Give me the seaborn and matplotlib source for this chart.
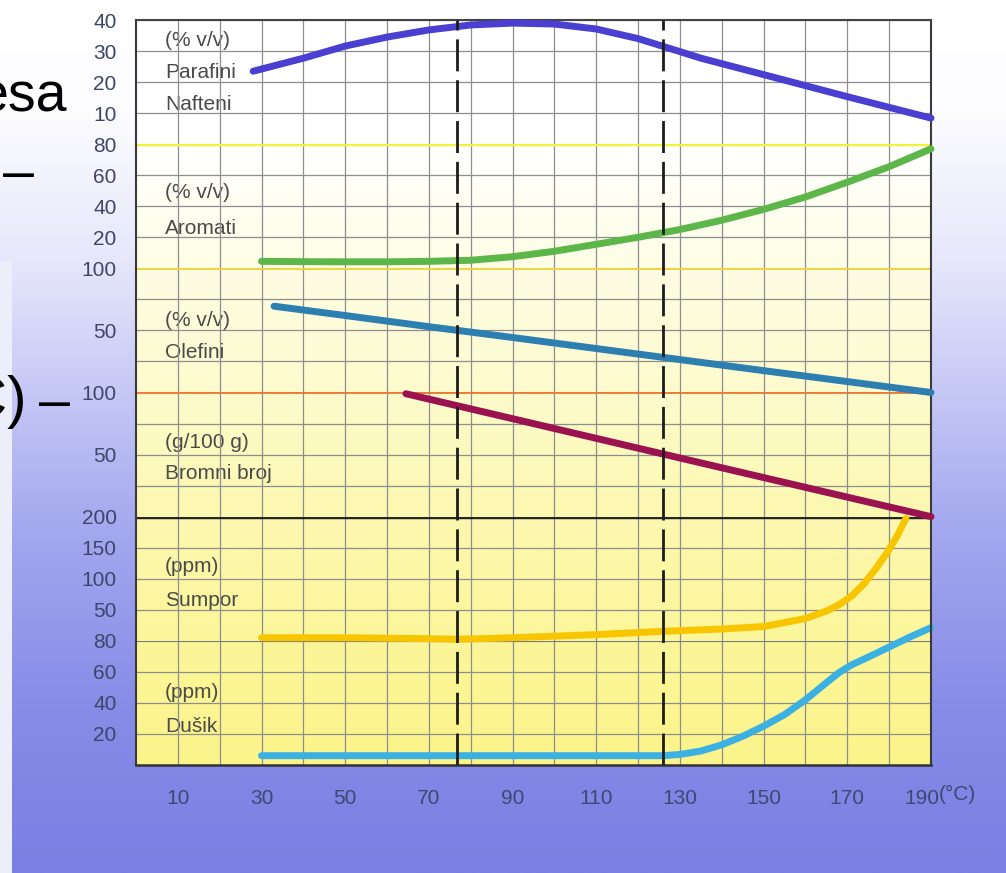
import numpy as np
import seaborn as sns
import matplotlib.pyplot as plt
from matplotlib.colors import to_rgb
from matplotlib.patches import Rectangle
from matplotlib.transforms import ScaledTranslation

# vrijednosti ocitane sa slike, x = temperatura (°C)
parafini_t = [28, 40, 50, 60, 70, 80, 90, 100, 110, 120, 126, 135, 150, 170, 190]
parafini = [23.5, 27.7, 31.6, 34.5, 36.8, 38.4, 39.0, 38.7, 37.1, 34.0, 31.5, 27.7, 22.4, 15.3, 8.4]

aromati_t = [30, 40, 50, 60, 70, 80, 90, 100, 110, 120, 130, 140, 150, 160, 170, 180, 190]
aromati = [4.5, 4.3, 4.2, 4.2, 4.5, 5.2, 7.5, 11.0, 15.5, 20.0, 25.0, 31.0, 38.0, 46.0, 55.5, 65.5, 77.0]

olefini_t = [33, 50, 70, 90, 110, 130, 150, 170, 190]
olefini = [69.5, 62.0, 53.0, 44.3, 35.4, 26.5, 17.6, 8.8, 0.0]

bromni_t = [64.5, 90, 126, 160, 190]
bromni = [99.0, 78.9, 50.4, 23.6, 0.0]

sumpor_t = [30, 50, 70, 77, 90, 110, 125, 140, 150, 160, 165, 168, 171, 174, 177, 180, 182, 184]
sumpor = [5, 5, 3.5, 2.5, 5, 10, 15, 19, 23, 36, 48, 58, 72, 92, 118, 147, 170, 197]

dusik_t = [30, 50, 70, 90, 110, 126, 130, 135, 140, 145, 150, 155, 160, 165, 168, 171, 175, 180, 185, 190]
dusik = [6, 6, 6, 6, 6, 6, 6.8, 9, 13, 18.5, 25, 32.5, 42, 53, 59.5, 64.5, 69.5, 76, 82.5, 88.5]

dashed_t = [76.6, 126.0]

x_ticks = [10, 30, 50, 70, 90, 110, 130, 150, 170, 190]
panel_top = [40, 80, 100, 100, 200, 80]
panel_ticks = [[10, 20, 30, 40], [20, 40, 60, 80], [50, 100], [50, 100],
               [50, 100, 150, 200], [20, 40, 60, 80]]
panel_minor = [[], [], [25, 75], [25, 75], [], []]
panel_labels = [["(% v/v)", "Parafini", "Nafteni"], ["(% v/v)", "Aromati"],
                ["(% v/v)", "Olefini"], ["(g/100 g)", "Bromni broj"],
                ["(ppm)", "Sumpor"], ["(ppm)", "Dušik"]]

sns.set_style("white")
plt.rcParams['font.family'] = ['Liberation Sans', 'DejaVu Sans']

W, H = 1006, 873
fig = plt.figure(figsize=(W / 100, H / 100), dpi=100)


def grad(stops, n=500):
    pos = [p for p, c in stops]
    cols = np.array([to_rgb(c) for p, c in stops])
    t = np.linspace(0, 1, n)
    return np.stack([np.interp(t, pos, cols[:, i]) for i in range(3)], axis=1)[:, None, :]


def fx(px):
    return px / W


def fy(py):
    return 1 - py / H


# pozadina slajda
bg = fig.add_axes([0, 0, 1, 1], zorder=-10)
bg.imshow(grad([(0, '#ffffff'), (0.12, '#fdfdff'), (0.3, '#e6e7fb'), (0.45, '#c5c8f5'),
                (0.6, '#a5a9ef'), (0.8, '#888de8'), (1, '#7a7fe3')]),
          aspect='auto', extent=[0, 1, 0, 1])
bg.add_patch(Rectangle((0, 0), 12 / W, 0.7, color='#eceefa', lw=0))
bg.set_xlim(0, 1)
bg.set_ylim(0, 1)
bg.axis('off')

L, R, T, B = 136, 931, 20, 765
row = (B - T) / 24

pb = fig.add_axes([fx(L), fy(B), (R - L) / W, (B - T) / H], zorder=-5)
pb.imshow(grad([(0, '#ffffff'), (0.168, '#ffffff'), (0.24, '#fffff4'), (0.336, '#fefde4'),
                (0.5, '#fdfbcc'), (0.667, '#fcf8b0'), (0.833, '#fcf69a'), (1, '#fbf48a')]),
          aspect='auto', extent=[0, 1, 0, 1])
pb.axis('off')

series = [(parafini_t, parafini, '#4a3fd0', 0), (aromati_t, aromati, '#5db64a', 1),
          (olefini_t, olefini, '#2c7fb0', 2), (bromni_t, bromni, '#9a1250', 3),
          (sumpor_t, sumpor, '#f7c600', 4), (dusik_t, dusik, '#3bb0e2', 5)]
dividers = [None, ('#f2f23a', 2.5), ('#f2d23a', 2.0), ('#ee7838', 2.0), ('#262626', 2.5), ('#7a7a7a', 1.3)]

axes = []
for k in range(6):
    top = T + 4 * k * row
    ax = fig.add_axes([fx(L), fy(top + 4 * row), (R - L) / W, 4 * row / H], zorder=10 - k)
    ax.set_facecolor('none')
    ax.set_xlim(0, 190)
    ax.set_ylim(0, panel_top[k])
    ax.set_yticks(panel_ticks[k])
    ax.set_yticks(panel_minor[k], minor=True)
    ax.set_xticks(x_ticks)
    ax.set_xticks(list(range(20, 190, 20)), minor=True)
    ax.grid(True, which='both', color='#8e8e8e', lw=0.9)
    ax.tick_params(axis='both', which='both', length=0)
    ax.tick_params(axis='y', pad=14, labelsize=15, labelcolor='#3e4668')
    for s in ['left', 'right']:
        ax.spines[s].set_color('#3a3a3a')
        ax.spines[s].set_linewidth(1.5)
    ax.spines['top'].set_visible(k == 0)
    ax.spines['bottom'].set_visible(k == 5)
    ax.spines['top'].set_color('#444444')
    ax.spines['top'].set_linewidth(1.5)
    ax.spines['bottom'].set_color('#333333')
    ax.spines['bottom'].set_linewidth(1.8)
    if dividers[k] is not None:
        ax.axhline(panel_top[k], color=dividers[k][0], lw=dividers[k][1], zorder=2)
    if k < 5:
        ax.tick_params(axis='x', labelbottom=False)
    else:
        ax.set_xticklabels([str(v) for v in x_ticks])
        ax.tick_params(axis='x', pad=17, labelsize=15, labelcolor='#3e4870')
    axes.append(ax)

# zadnja oznaka malo ulijevo, da stane "(°C)"
last = axes[5].get_xticklabels()[-1]
last.set_transform(last.get_transform() + ScaledTranslation(-0.09, 0, fig.dpi_scale_trans))

for t, v, c, k in series:
    sns.lineplot(x=t, y=v, ax=axes[k], color=c, lw=5, solid_capstyle='round',
                 clip_on=False, zorder=3)
    axes[k].set_xlabel('')
    axes[k].set_ylabel('')

# isprekidane linije preko cijelog dijagrama
ov = fig.add_axes([fx(L), fy(B), (R - L) / W, (B - T) / H], zorder=20)
ov.set_xlim(0, 190)
ov.set_ylim(0, 1)
ov.axis('off')
for xv in dashed_t:
    ov.axvline(xv, color='#1c1c1c', lw=2, dashes=(11.5, 3.2))

label_y = [[40, 72, 104], [192, 228], [320, 352], [442, 474], [567, 600], [692, 726]]
for labs, ys in zip(panel_labels, label_y):
    for s, py in zip(labs, ys):
        fig.text(fx(165), fy(py), s, fontsize=15, color='#4a4a4a', va='center', ha='left')

fig.text(fx(939), fy(794), "(°C)", fontsize=15, color='#3e4870', va='center', ha='left')

# ostaci teksta sa slajda
fig.text(fx(67), fy(112), "esa", fontsize=40, color='black', ha='right', va='baseline')
fig.text(fx(3), fy(175), "–", fontsize=40, color='black', ha='left', va='center')
fig.text(fx(27), fy(402), "C)", fontsize=42, color='black', ha='right', va='center')
fig.text(fx(39), fy(404), "–", fontsize=40, color='black', ha='left', va='center')

fig.savefig('out.png', dpi=100)
